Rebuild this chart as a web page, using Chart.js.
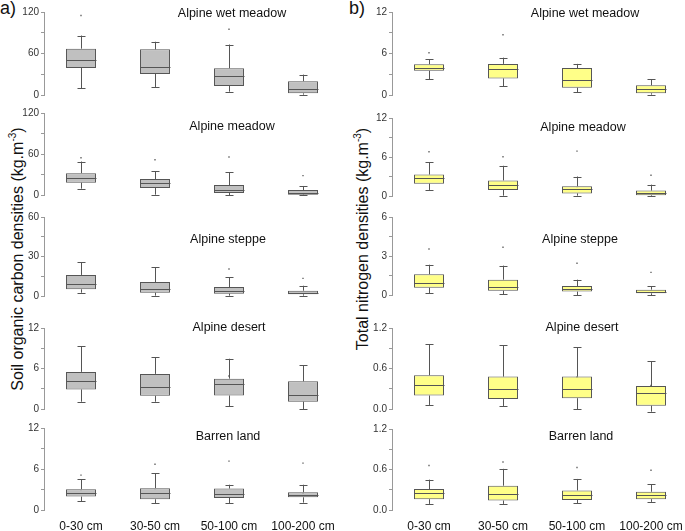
<!DOCTYPE html>
<html>
<head>
<meta charset="utf-8">
<script src="https://cdn.jsdelivr.net/npm/chart.js@4.4.1/dist/chart.umd.min.js"></script>
<style>
  html, body { margin: 0; padding: 0; background: #fff; }
  body { width: 685px; height: 531px; position: relative; overflow: hidden; font-family: "Liberation Sans", Arial, sans-serif; }
  canvas { position: absolute; }
  .lbl { position: absolute; white-space: nowrap; color: #111; transform: translate(-50%, -50%); }
  .ttl { font-size: 12.5px; }
  .ytitle { font-size: 16px; transform: translate(-50%, -50%) rotate(-90deg); }
  .panel { font-size: 18px; transform: none; }
</style>
</head>
<body>
<div class="lbl panel" style="left:0px;top:-2px;">a)</div>
<div class="lbl panel" style="left:349px;top:-2px;">b)</div>
<div class="lbl ytitle" style="left:17px;top:259px;">Soil organic carbon densities (kg.m<sup style="font-size:10px">-3</sup>)</div>
<div class="lbl ytitle" style="left:362px;top:239px;">Total nitrogen densities (kg.m<sup style="font-size:10px">-3</sup>)</div>

<script>
// categories
var depths = ['0-30 cm', '30-50 cm', '50-100 cm', '100-200 cm'];
var ecosystems = ['Alpine wet meadow', 'Alpine meadow', 'Alpine steppe', 'Alpine desert', 'Barren land'];

// soil organic carbon (kg.m-3), one row per ecosystem
var socLow  = [[10, 11.6, 4.8, 0.5], [9.3, 0.5, 0, 0], [2.5, 0.25, 0.25, 0.25], [1.08, 1.08, 0.4, 0], [1.27, 0.98, 0.98, 1.08]];
var socQ1   = [[39, 30.5, 13, 2.4], [18, 10.2, 2.9, 0.5], [5.1, 2.5, 1.8, 1.3], [2.9, 1.96, 2.0, 1.08], [1.96, 1.57, 1.76, 1.86]];
var socMed  = [[50, 40, 27.6, 8.7], [25.4, 18, 7.8, 3.4], [9.4, 5.6, 3.5, 2.3], [4.1, 3.3, 3.7, 2.06], [2.45, 2.45, 2.3, 2.2]];
var socQ3   = [[67, 66, 38.7, 20], [32, 23.4, 14.6, 7.3], [16, 10.6, 6.8, 4], [5.5, 5.2, 4.5, 4.1], [3.04, 3.2, 3.14, 2.6]];
var socHigh = [[86, 77, 73, 29.5], [49, 35, 33, 13.2], [25.6, 22, 14.4, 7.8], [9.3, 7.7, 7.45, 6.5], [4.5, 5.4, 3.7, 3.7]];
var socMean = [[56, 51, 33, 11.6], [26.3, 18, 10.7, 3.9], [11.4, 7.3, 4.8, 2.5], [5.2, 3.8, 4.9, 3.6], [2.75, 2.9, 2.75, 2.4]];
var socOut  = [[115, null, 95, null], [54.6, 51.7, 55.6, 28.3], [null, null, 20.5, 13.4], [null, null, null, null], [5.1, 6.7, 7.15, 6.86]];

// total nitrogen (kg.m-3)
var tnLow  = [[2.3, 1.3, 0.4, 0.05], [0.93, 0.05, 0.05, 0], [0.15, 0.05, 0, 0], [0.06, 0.045, 0, -0.04], [0.09, 0.09, 0.1, 0.12]];
var tnQ1   = [[3.5, 2.4, 1.05, 0.25], [1.9, 0.93, 0.4, 0.1], [0.56, 0.33, 0.26, 0.13], [0.2, 0.15, 0.16, 0.05], [0.16, 0.14, 0.15, 0.16]];
var tnMed  = [[3.9, 3.7, 2.2, 0.8], [2.7, 1.7, 1.1, 0.4], [0.92, 0.62, 0.46, 0.23], [0.35, 0.29, 0.29, 0.23], [0.25, 0.23, 0.22, 0.22]];
var tnQ3   = [[4.45, 4.5, 3.9, 1.4], [3.3, 2.4, 1.5, 0.83], [1.6, 1.18, 0.69, 0.41], [0.5, 0.48, 0.48, 0.34], [0.31, 0.36, 0.29, 0.27]];
var tnHigh = [[5.2, 5.4, 4.5, 2.3], [5.2, 4.65, 3.0, 1.75], [2.33, 2.26, 1.18, 0.69], [0.96, 0.945, 0.915, 0.71], [0.45, 0.61, 0.46, 0.385]];
var tnMean = [[4.05, 3.6, 3.1, 0.9], [2.8, 1.86, 1.2, 0.47], [1.15, 0.85, 0.49, 0.28], [0.46, 0.42, 0.47, 0.35], [0.26, 0.27, 0.25, 0.23]];
var tnOut  = [[6.1, 8.7, null, null], [6.8, 6.05, 6.9, 3.2], [3.54, 3.67, 2.44, 1.74], [null, null, null, null], [0.66, 0.71, 0.63, 0.59]];

// axis ranges and major tick step
var socMax = [120, 120, 60, 12, 12];
var socStep = [60, 60, 30, 6, 6];
var tnMax = [12, 12, 6, 1.2, 1.2];
var tnStep = [6, 6, 3, 0.6, 0.6];

// plot area top / bottom in page pixels
var leftRows = [[12, 95], [113, 195], [217, 296], [328, 409], [428, 510]];
var rightRows = [[12, 95], [118, 196], [217, 295], [328, 409], [429, 510]];
var leftTitlePos = [[232, 13], [232, 126], [228, 239], [229, 327], [228, 436]];
var rightTitlePos = [[585, 13], [583, 127], [580, 239], [582, 327], [581, 436]];

// whiskers, caps and median line
var boxPlugin = {
    id: 'boxExtras',
    afterDatasetsDraw: function (chart) {
        var st = chart.options.plugins.boxExtras;
        var meta = chart.getDatasetMeta(0);
        var x = chart.scales.x, y = chart.scales.y;
        var ctx = chart.ctx;
        ctx.save();
        ctx.strokeStyle = '#555';
        ctx.lineWidth = 1;
        meta.data.forEach(function (bar, i) {
            var cx = Math.round(x.getPixelForValue(i)) + 0.5;
            var hw = bar.width / 2;
            var yLow = y.getPixelForValue(st.low[i]);
            var yHigh = y.getPixelForValue(st.high[i]);
            var yQ1 = y.getPixelForValue(st.q1[i]);
            var yQ3 = y.getPixelForValue(st.q3[i]);
            var yMed = Math.round(y.getPixelForValue(st.med[i])) + 0.5;
            ctx.beginPath();
            ctx.moveTo(cx, yQ3); ctx.lineTo(cx, yHigh);
            ctx.moveTo(cx, yQ1); ctx.lineTo(cx, yLow);
            ctx.moveTo(cx - 4, Math.round(yHigh) + 0.5); ctx.lineTo(cx + 4, Math.round(yHigh) + 0.5);
            ctx.moveTo(cx - 4, Math.round(yLow) + 0.5); ctx.lineTo(cx + 4, Math.round(yLow) + 0.5);
            ctx.moveTo(cx - hw, yMed); ctx.lineTo(cx + hw, yMed);
            ctx.stroke();
        });
        ctx.restore();
    }
};

function makePanel(left, rows, r, stats, max, step, fill, isLast) {
    var top = rows[r][0], bottom = rows[r][1];
    var canvas = document.createElement('canvas');
    var h = bottom - top + 10 + (isLast ? 24 : 10);
    canvas.width = 345;
    canvas.height = h;
    canvas.style.left = left + 'px';
    canvas.style.top = (top - 10) + 'px';
    canvas.style.width = '345px';
    canvas.style.height = h + 'px';
    document.body.appendChild(canvas);

    var boxes = stats.q1[r].map(function (v, i) { return [v, stats.q3[r][i]]; });

    new Chart(canvas.getContext('2d'), {
        type: 'bar',
        data: {
            labels: depths,
            datasets: [{
                data: boxes,
                backgroundColor: fill,
                borderColor: '#555',
                borderWidth: 1,
                borderSkipped: false,
                barPercentage: 0.405,
                categoryPercentage: 1
            }, {
                type: 'line',
                data: stats.mean[r],
                showLine: false,
                pointRadius: 1,
                pointStyle: 'rect',
                pointBackgroundColor: '#555',
                pointBorderColor: '#555',
                pointBorderWidth: 0
            }, {
                type: 'line',
                data: stats.out[r],
                showLine: false,
                pointRadius: 1,
                pointStyle: 'rect',
                pointBackgroundColor: '#666',
                pointBorderColor: '#666',
                pointBorderWidth: 0,
                clip: false
            }]
        },
        options: {
            responsive: false,
            animation: false,
            events: [],
            layout: { padding: { top: 10, bottom: isLast ? 0 : 10, left: 0, right: 5 } },
            plugins: {
                legend: { display: false },
                tooltip: { enabled: false },
                boxExtras: {
                    low: stats.low[r], q1: stats.q1[r], med: stats.med[r],
                    q3: stats.q3[r], high: stats.high[r]
                }
            },
            scales: {
                x: {
                    display: isLast,
                    grid: { display: false, drawTicks: false },
                    border: { display: false },
                    ticks: { font: { family: 'Liberation Sans', size: 12 }, color: '#111', padding: 9, maxRotation: 0 },
                    afterFit: function (s) { s.height = isLast ? 24 : 0; }
                },
                y: {
                    min: 0,
                    max: max[r],
                    grid: { drawOnChartArea: false, drawTicks: true, tickLength: 3, color: '#999' },
                    border: { display: true, color: '#999' },
                    ticks: {
                        stepSize: step[r] / 2,
                        padding: 2,
                        color: '#333',
                        font: { family: 'Liberation Sans', size: 10 },
                        callback: function (v) {
                            var k = v / step[r];
                            if (Math.abs(k - Math.round(k)) > 1e-6) return '';
                            return step[r] < 1 ? v.toFixed(1) : String(Math.round(v));
                        }
                    },
                    afterFit: function (s) { s.width = 44; }
                }
            }
        },
        plugins: [boxPlugin]
    });
}

function addTitle(text, pos) {
    var d = document.createElement('div');
    d.className = 'lbl ttl';
    d.style.left = pos[0] + 'px';
    d.style.top = pos[1] + 'px';
    d.textContent = text;
    document.body.appendChild(d);
}

var socStats = { low: socLow, q1: socQ1, med: socMed, q3: socQ3, high: socHigh, mean: socMean, out: socOut };
var tnStats = { low: tnLow, q1: tnQ1, med: tnMed, q3: tnQ3, high: tnHigh, mean: tnMean, out: tnOut };

ecosystems.forEach(function (name, r) {
    var last = r === ecosystems.length - 1;
    makePanel(0, leftRows, r, socStats, socMax, socStep, '#c0c0c0', last);
    makePanel(348, rightRows, r, tnStats, tnMax, tnStep, '#ffff88', last);
    addTitle(name, leftTitlePos[r]);
    addTitle(name, rightTitlePos[r]);
});
</script>
</body>
</html>
